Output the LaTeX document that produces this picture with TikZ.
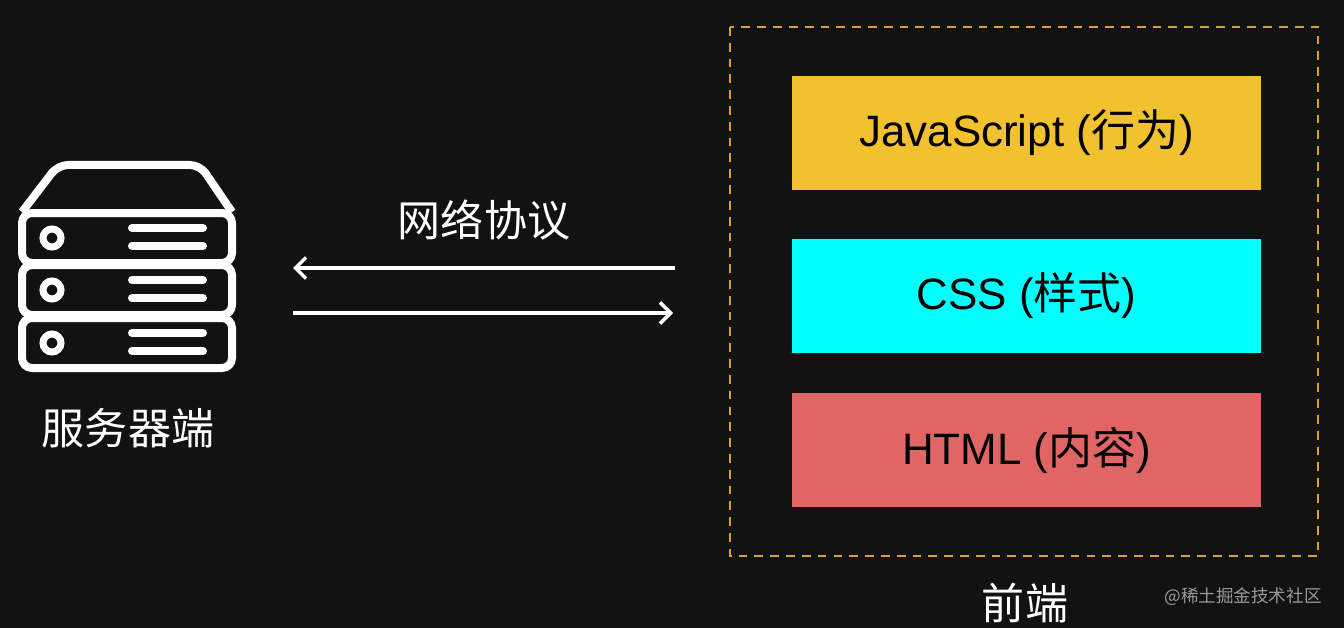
\documentclass[tikz,border=0pt]{standalone}
\usepackage{fontspec}
\setmainfont{Liberation Sans}
\newfontfamily\cjk{Noto Sans CJK SC}
\begin{document}
\begin{tikzpicture}[x=0.02cm,y=-0.02cm,
  wl/.style={draw=white,line width=8*0.02cm,rounded corners=10*0.02cm},
  bar/.style={draw=white,line width=8*0.02cm,line cap=round},
  layer/.style={minimum width=469*0.02cm,minimum height=114*0.02cm,inner sep=0pt,font=\fontsize{25}{28}\selectfont,text=black},
  lbl/.style={text=white,font=\cjk\fontsize{24.5}{28}\selectfont},
  arr/.style={draw=white,line width=3.5*0.02cm,-{Straight Barb[length=6pt,width=12pt,line width=3.5*0.02cm]}}]
\usetikzlibrary{arrows.meta}
\fill[black!93] (0,0) rectangle (1344,628);
\useasboundingbox (0,0) rectangle (1344,628);
% server icon
\draw[wl] (22,212) -- (58,165) -- (200,165) -- (232,212);
\foreach \t in {213,265,318}{
  \draw[wl] (22,\t) rectangle (232,\t+50);
  \draw[white,line width=7*0.02cm] (52,\t+25) circle (9);
  \draw[bar] (132,\t+15) -- (203,\t+15);
  \draw[bar] (132,\t+33) -- (203,\t+33);
}
\node[lbl] (srv) at (128,428) {服务器端};
\node[lbl] (net) at (484,220) {网络协议};
\coordinate (a1) at (675,268); \coordinate (a2) at (293,268);
\coordinate (b1) at (293,313); \coordinate (b2) at (673,313);
\draw[arr] (a1) -- (a2);
\draw[arr] (b1) -- (b2);
\draw[draw={rgb,255:red,224;green,160;blue,48},line width=2.5*0.02cm,dash pattern=on 5pt off 4pt] (730,27) rectangle (1318,556);
\node[layer,fill={rgb,255:red,242;green,193;blue,46}] (js) at (1026.5,133) {JavaScript ({\cjk 行为})};
\node[layer,fill={rgb,255:red,0;green,255;blue,255}] (css) at (1026.5,296) {CSS ({\cjk 样式})};
\node[layer,fill={rgb,255:red,224;green,102;blue,102}] (html) at (1026.5,450) {HTML ({\cjk 内容})};
\node[lbl] (fe) at (1025,603) {前端};
\node[text=gray!80,font=\cjk\fontsize{10}{12}\selectfont] (wm) at (1243,597) {@稀土掘金技术社区};
\end{tikzpicture}
\end{document}
